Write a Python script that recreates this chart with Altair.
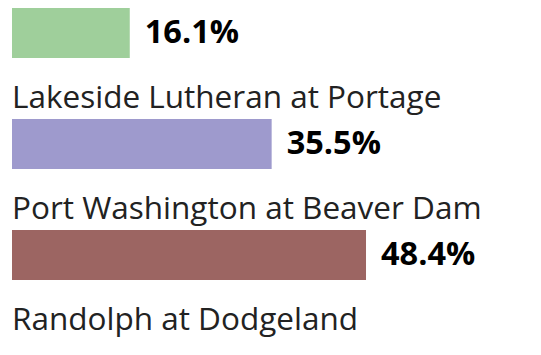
import altair as alt
import pandas as pd

names = ["Lakeside Lutheran at Portage", "Port Washington at Beaver Dam", "Randolph at Dodgeland"]
values = [16.1, 35.5, 48.4]
colors = ["#9fcf9b", "#9e9acd", "#9c6562"]

df = pd.DataFrame({"name": names, "value": values, "color": colors})
df["label"] = df["value"].map(lambda v: f"{v:.1f}%")

y = alt.Y("name:N", sort=names, axis=None,
          scale=alt.Scale(paddingInner=0, paddingOuter=0))
x = alt.X("value:Q", axis=None, scale=alt.Scale(domain=[0, 70], nice=False))

bars = alt.Chart(df).mark_bar(size=50, yOffset=-22.5).encode(
    x=x, y=y, color=alt.Color("color:N", scale=None)
)

pct = alt.Chart(df).mark_text(
    align="left", baseline="middle", dx=15, dy=-22.5,
    font="Open Sans", fontSize=32.5, fontWeight="bold", color="#000000"
).encode(x=x, y=y, text="label:N")

names_txt = alt.Chart(df).mark_text(
    align="left", baseline="alphabetic", dy=52.5,
    font="Open Sans", fontSize=31.5, color="#222222"
).encode(x=alt.value(0), y=y, text="name:N")

chart = alt.layer(bars, pct, names_txt).properties(
    width=512, height=333, background="white",
    padding={"left": 12, "top": 0, "right": 17, "bottom": 22},
    autosize=alt.AutoSizeParams(type="none"),
).configure_view(stroke=None)

chart.save("out.html", embed_options={"renderer": "svg", "actions": False})
